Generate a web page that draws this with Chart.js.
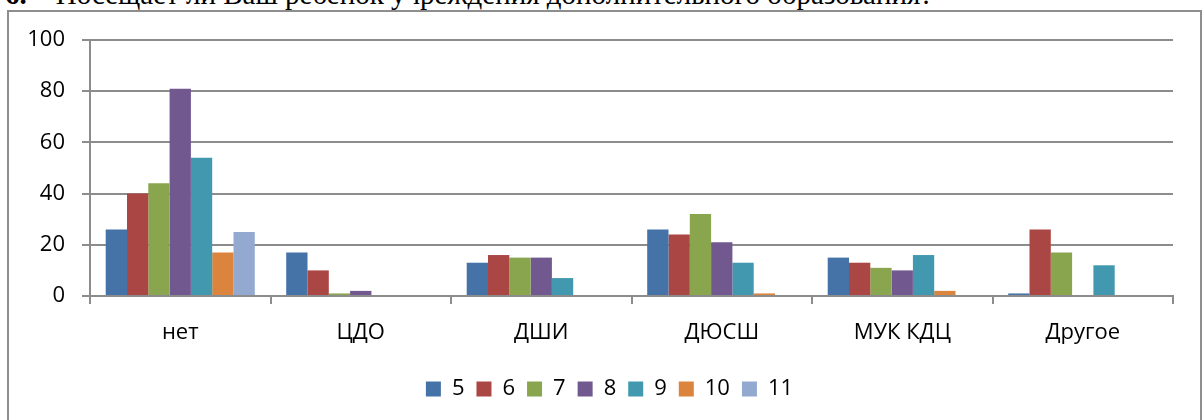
<!DOCTYPE html>
<html>
<head>
<meta charset="utf-8">
<script src="https://cdn.jsdelivr.net/npm/chart.js@4.4.1/dist/chart.umd.min.js"></script>
<style>
    html, body {
        margin: 0;
        padding: 0;
        width: 1202px;
        height: 420px;
        overflow: hidden;
        background: #fff;
    }
    #title {
        position: absolute;
        left: 5px;
        top: -20px;
        font-family: "Liberation Serif", "Times New Roman", serif;
        font-size: 29px;
        line-height: 1;
        white-space: pre;
        color: #000;
    }
    #frame {
        position: absolute;
        left: 7px;
        top: 10px;
        width: 1191px;
        height: 440px;
        border: 2px solid #8e8e8e;
    }
    #wrap {
        position: absolute;
        left: 0;
        top: 0;
        width: 1202px;
        height: 420px;
    }
</style>
</head>
<body>
<div id="title"><b>6.</b>    Посещает ли Ваш ребенок учреждения дополнительного образования?</div>
<div id="frame"></div>
<div id="wrap"><canvas id="chart" width="1202" height="420"></canvas></div>
<script>
// categories and series
const categories = ["нет", "ЦДО", "ДШИ", "ДЮСШ", "МУК КДЦ", "Другое"];
const seriesNames = ["5", "6", "7", "8", "9", "10", "11"];

const grade5 = [26, 17, 13, 26, 15, 1];
const grade6 = [40, 10, 16, 24, 13, 26];
const grade7 = [44, 1, 15, 32, 11, 17];
const grade8 = [81, 2, 15, 21, 10, 0];
const grade9 = [54, 0, 7, 13, 16, 12];
const grade10 = [17, 0, 0, 1, 2, 0];
const grade11 = [25, 0, 0, 0, 0, 0];

const yTicks = [0, 20, 40, 60, 80, 100];

const seriesValues = [grade5, grade6, grade7, grade8, grade9, grade10, grade11];
const seriesColors = ["#4572a7", "#aa4643", "#89a54e", "#71588f", "#4198af", "#db843d", "#93a9cf"];

const gridColor = "#8c8c8c";
const labelFont = { family: "'Open Sans', sans-serif", size: 22 };

const datasets = seriesNames.map((name, index) => ({
    label: name,
    data: seriesValues[index],
    backgroundColor: seriesColors[index],
    borderWidth: 0,
    categoryPercentage: 0.826,
    barPercentage: 1,
}));

// the legend sits centred on the frame, not on the plot, so nudge it right
const legendShift = {
    id: "legendShift",
    afterLayout(chart) {
        if (chart.legend) {
            chart.legend.left += 23;
            chart.legend.right += 23;
            chart.legend.top += 2;
            chart.legend.bottom += 2;
        }
    },
};

new Chart(document.getElementById("chart").getContext("2d"), {
    type: "bar",
    data: {
        labels: categories,
        datasets,
    },
    plugins: [legendShift],
    options: {
        responsive: false,
        animation: false,
        layout: {
            padding: { left: 0, right: 29, top: 40, bottom: 12 },
        },
        plugins: {
            tooltip: { enabled: false },
            legend: {
                position: "bottom",
                labels: {
                    font: labelFont,
                    color: "#000",
                    boxWidth: 15,
                    boxHeight: 15,
                    padding: 12,
                },
            },
        },
        scales: {
            x: {
                grid: {
                    display: true,
                    drawOnChartArea: false,
                    drawTicks: true,
                    tickLength: 8,
                    color: gridColor,
                    lineWidth: 2,
                    offset: true,
                },
                border: { display: true, color: gridColor, width: 2 },
                ticks: {
                    font: labelFont,
                    color: "#000",
                    padding: 16,
                    maxRotation: 0,
                },
                afterFit: (scale) => {
                    scale.height = 68;
                },
            },
            y: {
                min: 0,
                max: 100,
                afterBuildTicks: (scale) => {
                    scale.ticks = yTicks.map((value) => ({ value }));
                },
                grid: {
                    color: gridColor,
                    lineWidth: 2,
                    drawTicks: true,
                    tickLength: 8,
                },
                border: { display: true, color: gridColor, width: 2 },
                ticks: {
                    font: labelFont,
                    color: "#000",
                    padding: 17,
                },
                afterFit: (scale) => {
                    scale.width = 90;
                },
            },
        },
    },
});
</script>
</body>
</html>
